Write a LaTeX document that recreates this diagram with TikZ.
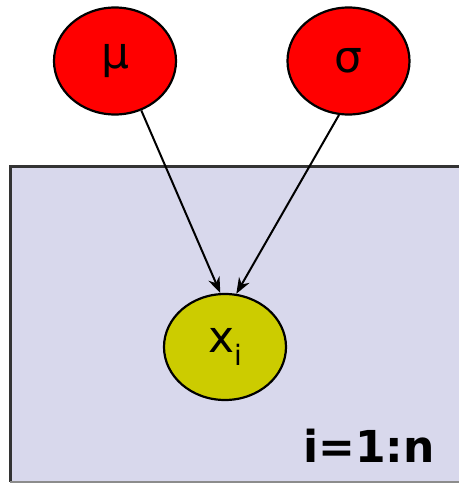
\documentclass[tikz,border=0pt]{standalone}
\usepackage{fontspec}
\setmainfont{DejaVu Sans}
\usetikzlibrary{shapes.geometric,arrows.meta}
\definecolor{plate}{RGB}{216,216,236}
\definecolor{nodered}{RGB}{255,0,0}
\definecolor{nodeyel}{RGB}{204,204,0}
\tikzset{
  varnode/.style={ellipse,draw=black,line width=2.2pt,inner sep=0pt,minimum width=122pt,minimum height=107pt,font=\fontsize{44}{50}\selectfont},
  edge/.style={line width=2pt,-{Stealth[length=16pt,width=12pt]}}
}
\begin{document}
\begin{tikzpicture}[x=1pt,y=1pt]
\useasboundingbox (0,0) rectangle (459,483);
% plate
\fill[plate] (10,1) rectangle (459,316);
\draw[line width=3pt,black!80] (10,1) -- (10,316) -- (459,316);
\draw[line width=1.5pt,black!45] (10,1) -- (459,1);
% nodes
\node[varnode,fill=nodered] (mu) at (115,422) {μ};
\node[varnode,fill=nodered] (sigma) at (348.5,422) {σ};
\node[varnode,fill=nodeyel,minimum height=106pt] (x) at (225,136) {x\raisebox{-0.28em}{\fontsize{28}{28}\selectfont i}};
% edges
\draw[edge] (mu.-62) -- (x.95);
\draw[edge] (sigma.-100) -- (x.78);
% plate label
\node[anchor=base west,inner sep=0pt,font=\fontsize{44}{50}\selectfont\bfseries] (lab) at (303,20) {i=1:n};
\end{tikzpicture}
\end{document}
